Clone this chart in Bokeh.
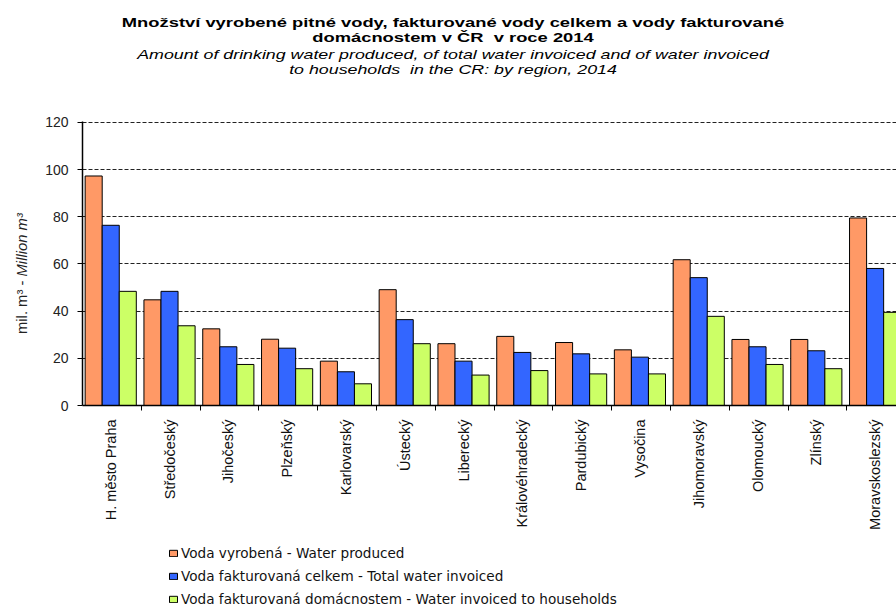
from math import pi

from bokeh.embed import file_html
from bokeh.layouts import column, row
from bokeh.models import (ColumnDataSource, Div, FixedTicker, Legend,
                          LegendItem, Range1d)
from bokeh.plotting import figure
from bokeh.resources import INLINE

# --- data -----------------------------------------------------------------
regions = [
    "H. město Praha", "Středočeský", "Jihočeský", "Plzeňský", "Karlovarský",
    "Ústecký", "Liberecký", "Královéhradecký", "Pardubický", "Vysočina",
    "Jihomoravský", "Olomoucký", "Zlínský", "Moravskoslezský",
]
water_produced = [97.3, 44.8, 32.5, 28.1, 18.8, 49.1, 26.2, 29.3, 26.7, 23.6,
                  61.8, 28.0, 28.0, 79.5]
water_invoiced_total = [76.4, 48.4, 24.9, 24.3, 14.3, 36.4, 18.8, 22.5, 21.9,
                        20.5, 54.2, 24.9, 23.2, 58.1]
water_invoiced_households = [48.4, 33.8, 17.4, 15.6, 9.2, 26.2, 12.9, 14.8,
                             13.4, 13.4, 37.8, 17.4, 15.6, 39.5]
y_ticks = [0, 20, 40, 60, 80, 100, 120]

series_names = [
    "Voda vyrobená - Water produced",
    "Voda fakturovaná celkem - Total water invoiced",
    "Voda fakturovaná domácnostem - Water invoiced to households",
]
series_colors = ["#FF9966", "#3366FF", "#CCFF66"]

title_cz = ["Množství vyrobené pitné vody, fakturované vody celkem a vody fakturované",
            "domácnostem v ČR&nbsp; v roce 2014"]
title_en = ["Amount of drinking water produced, of total water invoiced and of water invoiced",
            "to households&nbsp; in the CR: by region, 2014"]

# --- layout constants ---------------------------------------------------------
W, H = 896, 607
TITLE_H = 100             # html title block
YLABEL_W = 40             # html y-axis caption column
LEGEND_TOP = 540          # legend strip below the chart
FRAME_LEFT, FRAME_TOP, FRAME_BOTTOM = 82, 121, 405
Y_MAX = 120.4             # a little headroom so the 120 gridline stays visible
UNIT_PX = 58.8            # width of one region group in pixels
BAR_W = 0.29
FONT = "Liberation Sans"

frame_w = W - FRAME_LEFT
centers = [i + 0.48 for i in range(len(regions))]
boundaries = list(range(1, len(regions) + 1))

p = figure(
    width=W - YLABEL_W, height=LEGEND_TOP - TITLE_H,
    x_range=Range1d(0, frame_w / UNIT_PX), y_range=Range1d(0, Y_MAX),
    output_backend="svg", toolbar_location=None,
    min_border_left=FRAME_LEFT - YLABEL_W, min_border_right=0,
    min_border_top=FRAME_TOP - TITLE_H,
    min_border_bottom=LEGEND_TOP - FRAME_BOTTOM,
)
p.outline_line_color = None

# --- bars -------------------------------------------------------------------
series = [water_produced, water_invoiced_total, water_invoiced_households]
for k, (vals, color) in enumerate(zip(series, series_colors)):
    src = ColumnDataSource(dict(
        x=[c + (k - 1) * BAR_W for c in centers], top=vals))
    p.vbar(x="x", top="top", bottom=0, width=BAR_W, source=src,
           fill_color=color, line_color="black", line_width=1)

# --- axes -------------------------------------------------------------------
p.xgrid.visible = False
p.ygrid.grid_line_color = "#222222"
p.ygrid.grid_line_dash = "4 2"
p.ygrid.grid_line_width = 1

p.yaxis.ticker = FixedTicker(ticks=y_ticks)
p.yaxis.major_tick_out = 5
p.yaxis.major_tick_in = 0
p.yaxis.minor_tick_line_color = None
p.yaxis.axis_line_width = 1.5
p.yaxis.axis_line_color = "black"
p.yaxis.major_label_text_font = FONT
p.yaxis.major_label_text_font_size = "14px"
p.yaxis.major_label_text_color = "#222222"
p.yaxis.major_label_standoff = 9

p.xaxis.ticker = FixedTicker(ticks=centers, minor_ticks=boundaries)
p.xaxis.major_label_overrides = {c: name for c, name in zip(centers, regions)}
p.xaxis.major_label_orientation = pi / 2
p.xaxis.major_tick_line_color = None
p.xaxis.minor_tick_out = 5
p.xaxis.minor_tick_in = 0
p.xaxis.minor_tick_line_color = "black"
p.xaxis.axis_line_width = 1.5
p.xaxis.axis_line_color = "black"
p.xaxis.major_label_text_font = FONT
p.xaxis.major_label_text_font_size = "14.5px"
p.xaxis.major_label_text_color = "#111111"
p.xaxis.major_label_standoff = 8

# --- legend strip -------------------------------------------------------------
# swatch renderers sit outside the strip's visible range; only their legend
# glyphs are seen
leg = figure(
    width=W, height=H - LEGEND_TOP, x_range=Range1d(0, 1), y_range=Range1d(0, 1),
    output_backend="svg", toolbar_location=None, min_border=0,
)
leg.axis.visible = False
leg.grid.visible = False
leg.outline_line_color = None
swatches = [leg.vbar(x=[5], top=[1], width=0.1, fill_color=c,
                     line_color="black", line_width=1) for c in series_colors]
legend = Legend(
    items=[LegendItem(label=n, renderers=[r])
           for n, r in zip(series_names, swatches)],
    location=(168, 0),
    padding=0, margin=0, border_line_color=None, background_fill_alpha=0,
    glyph_width=10, glyph_height=8, label_standoff=3, spacing=7,
    label_height=16, label_text_font="DejaVu Sans",
    label_text_font_size="13.6px", label_text_color="#111111",
)
leg.add_layout(legend)

# --- title and y-axis caption as HTML ---------------------------------------
bold_line = ("height:15px;line-height:15px;font-size:13.4px;font-weight:bold;"
             "transform:scaleX(1.37);white-space:nowrap;")
italic_line = ("height:14.6px;line-height:14.6px;font-size:13px;font-style:italic;"
               "transform:scaleX(1.37);white-space:nowrap;")
title_html = (
    '<div style="width:880px;margin-left:13px;padding-top:14.5px;'
    f'text-align:center;font-family:\'{FONT}\',Arial,sans-serif;color:#000;">'
    f'<div style="{bold_line}">{title_cz[0]}</div>'
    f'<div style="{bold_line}">{title_cz[1]}</div>'
    f'<div style="margin-top:3.7px;{italic_line}">{title_en[0]}</div>'
    f'<div style="{italic_line}">{title_en[1]}</div>'
    '</div>'
)
title_div = Div(text=title_html, width=W, height=TITLE_H, margin=0)

ylabel_html = (
    '<div style="margin-top:32px;margin-left:14px;height:283px;width:16px;'
    'writing-mode:vertical-rl;transform:rotate(180deg);text-align:center;'
    f'font-family:\'{FONT}\',Arial,sans-serif;font-size:14.8px;line-height:16px;'
    'color:#222;white-space:nowrap;">'
    'mil. m³ - <i>Million m³</i></div>'
)
ylabel_div = Div(text=ylabel_html, width=YLABEL_W, height=LEGEND_TOP - TITLE_H,
                 margin=0)

layout = column(title_div, row(ylabel_div, p, spacing=0), leg, spacing=0)

open("out.html", "w").write(file_html(layout, INLINE))
